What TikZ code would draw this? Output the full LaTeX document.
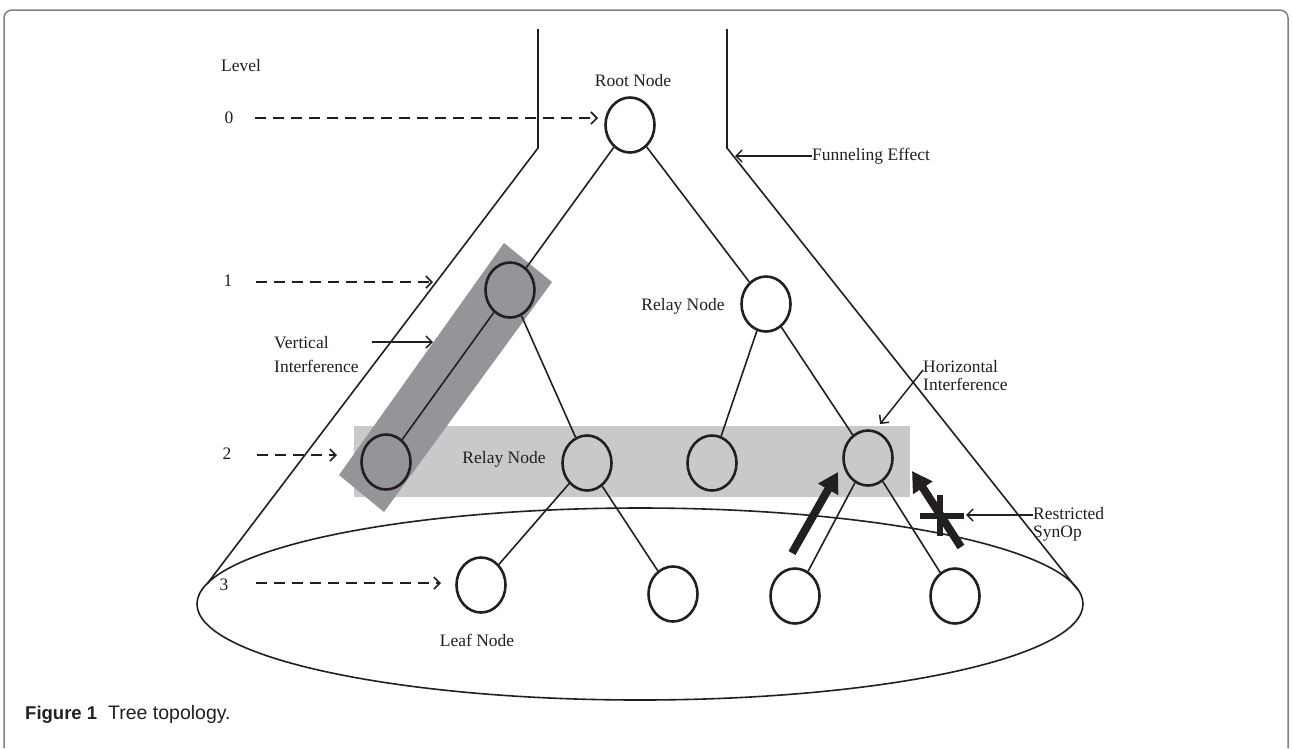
\documentclass[tikz,border=0pt]{standalone}
\usepackage{fontspec}
\setmainfont{Liberation Serif}
\newfontfamily\capfont{Liberation Sans}
\usetikzlibrary{arrows.meta,shapes.geometric}
\definecolor{darkg}{HTML}{939598}
\definecolor{lightg}{HTML}{C8C9CB}
\definecolor{frameg}{HTML}{808080}
\definecolor{ink}{HTML}{231F20}
\begin{document}
\begin{tikzpicture}[x=1pt,y=-1pt,
  tnode/.style={ellipse,draw=ink,line width=2.6pt,minimum width=49pt,minimum height=55pt,inner sep=0pt,fill=white},
  edge/.style={line width=1.6pt,draw=ink},
  lbl/.style={font=\fontsize{17.5}{18}\selectfont,inner sep=0pt,text=ink},
  dasharrow/.style={line width=1.6pt,draw=ink,dash pattern=on 11pt off 7pt,-{Straight Barb[length=6pt,width=12pt]}},
  ptr/.style={line width=1.5pt,draw=ink,-{Straight Barb[length=6pt,width=12pt]}},
  fat/.style={line width=8pt,draw=ink,-{Triangle[length=20pt,width=22pt]}},
  crossbar/.style={line width=6pt,draw=ink}
]
\useasboundingbox (0,0) rectangle (1292,748);
\fill[white] (0,0) rectangle (1292,748);
% frame
\draw[frameg,line width=1.5pt,rounded corners=8pt] (4,748) -- (4,10) -- (1288,10) -- (1288,748);
% interference areas
\fill[lightg] (354,426) rectangle (910,497);
\fill[darkg] (504,243) -- (552,282) -- (384,512) -- (339,475) -- cycle;
% bottom ellipse
\draw[edge] (640,604) ellipse [x radius=443pt, y radius=96pt];
% funnel
\draw[edge] (538,29) -- (538,148) -- (207,584);
\draw[edge] (727,29) -- (727,148) -- (1078,590);
% nodes
\node[tnode] (root) at (630,125) {};
\node[tnode,fill=darkg] (n1a) at (510,290) {};
\node[tnode] (relay) at (766,304) {};
\node[tnode,fill=darkg] (n2a) at (386,462) {};
\node[tnode,fill=lightg] (n2b) at (587,463) {};
\node[tnode,fill=lightg] (n2c) at (712,463) {};
\node[tnode,fill=lightg] (n2d) at (868,458) {};
\node[tnode] (l1) at (481,585) {};
\node[tnode] (l2) at (673,594) {};
\node[tnode] (l3) at (795,596) {};
\node[tnode] (l4) at (955,596) {};
% edges
\draw[edge] (root) -- (n1a);
\draw[edge] (root) -- (relay);
\draw[edge] (n1a) -- (n2a);
\draw[edge] (n1a) -- (n2b);
\draw[edge] (relay) -- (n2c);
\draw[edge] (relay) -- (n2d);
\draw[edge] (n2b) -- (l1);
\draw[edge] (n2b) -- (l2);
\draw[edge] (n2d) -- (l3);
\draw[edge] (n2d) -- (l4);
% level labels
\node[lbl] (lev) at (241,66) {Level};
\node[lbl] (lv0) at (229,118) {0};
\node[lbl] (lv1) at (228,281) {1};
\node[lbl] (lv2) at (227,454) {2};
\node[lbl] (lv3) at (224,585) {3};
\coordinate (d0a) at (255,118); \coordinate (d0b) at (598,118);
\coordinate (d1a) at (256,282); \coordinate (d1b) at (433,282);
\coordinate (d2a) at (257,455); \coordinate (d2b) at (337,455);
\coordinate (d3a) at (256,583); \coordinate (d3b) at (441,583);
\draw[dasharrow] (d0a) -- (d0b);
\draw[dasharrow] (d1a) -- (d1b);
\draw[dasharrow] (d2a) -- (d2b);
\draw[dasharrow] (d3a) -- (d3b);
% texts
\node[lbl] (trn) at (633,81) {Root Node};
\node[lbl,anchor=west] (tfun) at (812,156) {Funneling Effect};
\node[lbl] (trel1) at (683,306) {Relay Node};
\node[lbl,anchor=west,align=left,font=\fontsize{17.5}{24}\selectfont] (tvi) at (274,355) {Vertical\\Interference};
\node[lbl] (trel2) at (504,459) {Relay Node};
\node[lbl,anchor=west,align=left] (thi) at (923,376) {Horizontal\\Interference};
\node[lbl,anchor=west,align=left] (trs) at (1033,524) {Restricted\\SynOp};
\node[lbl] (tleaf) at (477,640) {Leaf Node};
% pointers
\coordinate (pf) at (735,156);
\coordinate (pva) at (372,342); \coordinate (pvb) at (433,342);
\coordinate (pha) at (923,370); \coordinate (phb) at (880,424);
\coordinate (pra) at (1033,515); \coordinate (prb) at (966,515);
\draw[ptr] (tfun.west) -- (pf);
\draw[ptr] (pva) -- (pvb);
\draw[ptr] (pha) -- (phb);
\draw[ptr] (pra) -- (prb);
% thick SynOp arrows
\coordinate (fa1) at (792,553); \coordinate (fa2) at (838,472);
\coordinate (fb1) at (961,547); \coordinate (fb2) at (912,471);
\draw[fat] (fa1) -- (fa2);
\draw[fat] (fb1) -- (fb2);
\coordinate (cxa) at (920,516); \coordinate (cxb) at (964,516);
\coordinate (cya) at (940,495); \coordinate (cyb) at (940,536);
\draw[crossbar] (cxa) -- (cxb);
\draw[crossbar] (cya) -- (cyb);
% caption
\node[anchor=base west,inner sep=0pt,font=\capfont\fontsize{19.5}{20}\selectfont,text=ink] (cap) at (25,719) {{\fontsize{18.5}{20}\selectfont\bfseries Figure 1}\hspace{11pt}Tree topology.};
\end{tikzpicture}
\end{document}
